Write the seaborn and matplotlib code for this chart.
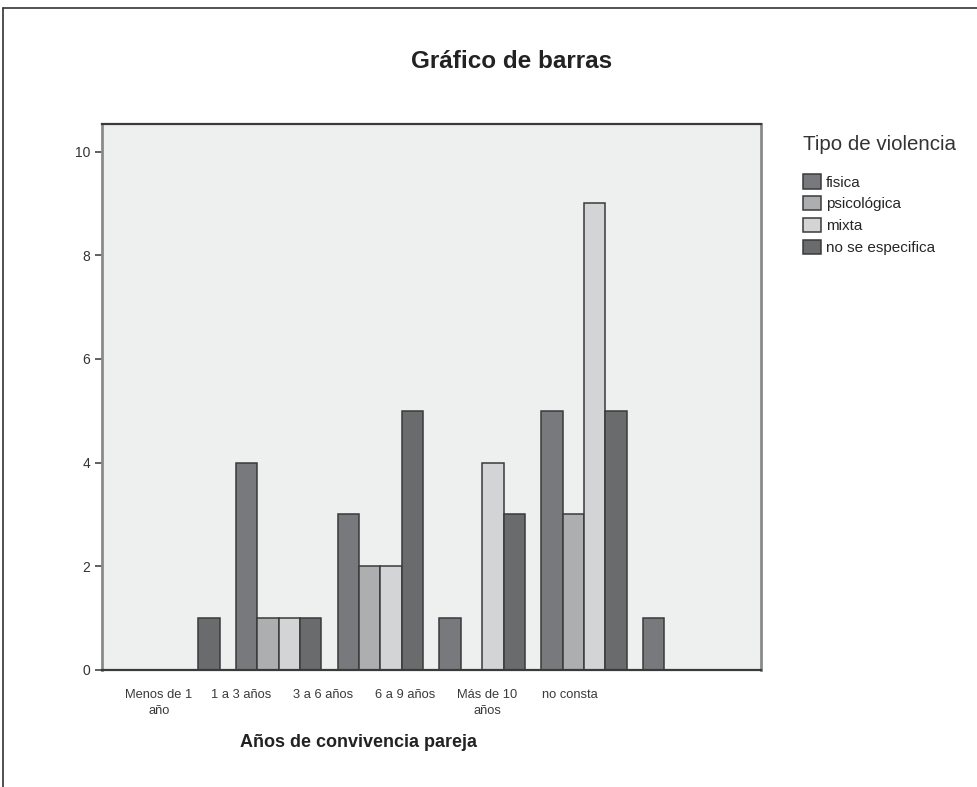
import numpy as np
import pandas as pd
import matplotlib
matplotlib.use('Agg')
import matplotlib.pyplot as plt
from matplotlib.lines import Line2D
import seaborn as sns

# datos
categorias = ['Menos de 1\naño', '1 a 3 años', '3 a 6 años', '6 a 9 años', 'Más de 10\naños', 'no consta']
tipos = ['fisica', 'psicológica', 'mixta', 'no se especifica']
fisica = [0, 4, 3, 1, 5, 1]
psicologica = [0, 1, 2, 0, 3, 0]
mixta = [0, 1, 2, 4, 9, 0]
no_especifica = [1, 1, 5, 3, 5, 0]

colores = ['#78797d', '#adaeaf', '#d3d4d6', '#6a6b6d']

df = pd.DataFrame({
    'anios': categorias * 4,
    'tipo': np.repeat(tipos, len(categorias)),
    'n': fisica + psicologica + mixta + no_especifica,
})

sns.set_theme(style='white')
plt.rcParams['font.family'] = ['Liberation Sans', 'DejaVu Sans']

fig = plt.figure(figsize=(9.77, 7.87), dpi=100)
ax = fig.add_axes([0.104, 0.1487, 0.675, 0.6937])
ax.set_facecolor('#eef0f0')

sns.barplot(data=df, x='anios', y='n', hue='tipo', order=categorias, hue_order=tipos,
            palette=colores, width=0.84, gap=0, edgecolor='#3a3a3a', linewidth=1.1,
            saturation=1, ax=ax)

ax.set_xlim(-0.74, 5.74)
ax.set_ylim(0, 10.53)
ax.set_yticks([0, 2, 4, 6, 8, 10])
ax.set_yticklabels(['0', '2', '4', '6', '8', '10'], fontsize=10, color='#333333')

# las etiquetas del eje x del original no estan centradas en los grupos
ticks_x = [-0.175 + i * 0.807 for i in range(len(categorias))]
ax.set_xticks(ticks_x)
ax.set_xticklabels(categorias, fontsize=9.3, color='#3a3a3a', linespacing=1.45)
ax.tick_params(axis='x', length=7, width=1.2, color='#888888', pad=7)
ax.tick_params(axis='y', length=5, width=1.2, color='#444444', pad=3, left=True)
ax.set_xlabel('')
ax.set_ylabel('')

for lado in ['left', 'right']:
    ax.spines[lado].set_color('#8a8a8a')
    ax.spines[lado].set_linewidth(2)
for lado in ['top', 'bottom']:
    ax.spines[lado].set_color('#3a3a3a')
    ax.spines[lado].set_linewidth(1.6)

handles, labels = ax.get_legend_handles_labels()
ax.legend(handles, labels, loc='upper left',
          bbox_to_anchor=(0.8145, 0.788), bbox_transform=fig.transFigure,
          frameon=False, fontsize=11, handlelength=1.15,
          handleheight=1.05, handletextpad=0.3, labelspacing=0.42, borderpad=0)
fig.text(0.8216, 0.816, 'Tipo de violencia', ha='left', va='center',
         fontsize=14.8, color='#333333')

fig.text(0.524, 0.922, 'Gráfico de barras', ha='center', va='center',
         fontsize=17.5, fontweight='bold', color='#222222')
fig.text(0.367, 0.056, 'Años de convivencia pareja', ha='center', va='center',
         fontsize=13, fontweight='bold', color='#222222')

# marco de la figura (solo izquierda y arriba)
fig.add_artist(Line2D([0.0035, 0.0035], [0, 0.99], color='#333333', lw=1.2,
                      transform=fig.transFigure))
fig.add_artist(Line2D([0.0035, 1], [0.99, 0.99], color='#333333', lw=1.2,
                      transform=fig.transFigure))

fig.savefig('out.png', dpi=100)
